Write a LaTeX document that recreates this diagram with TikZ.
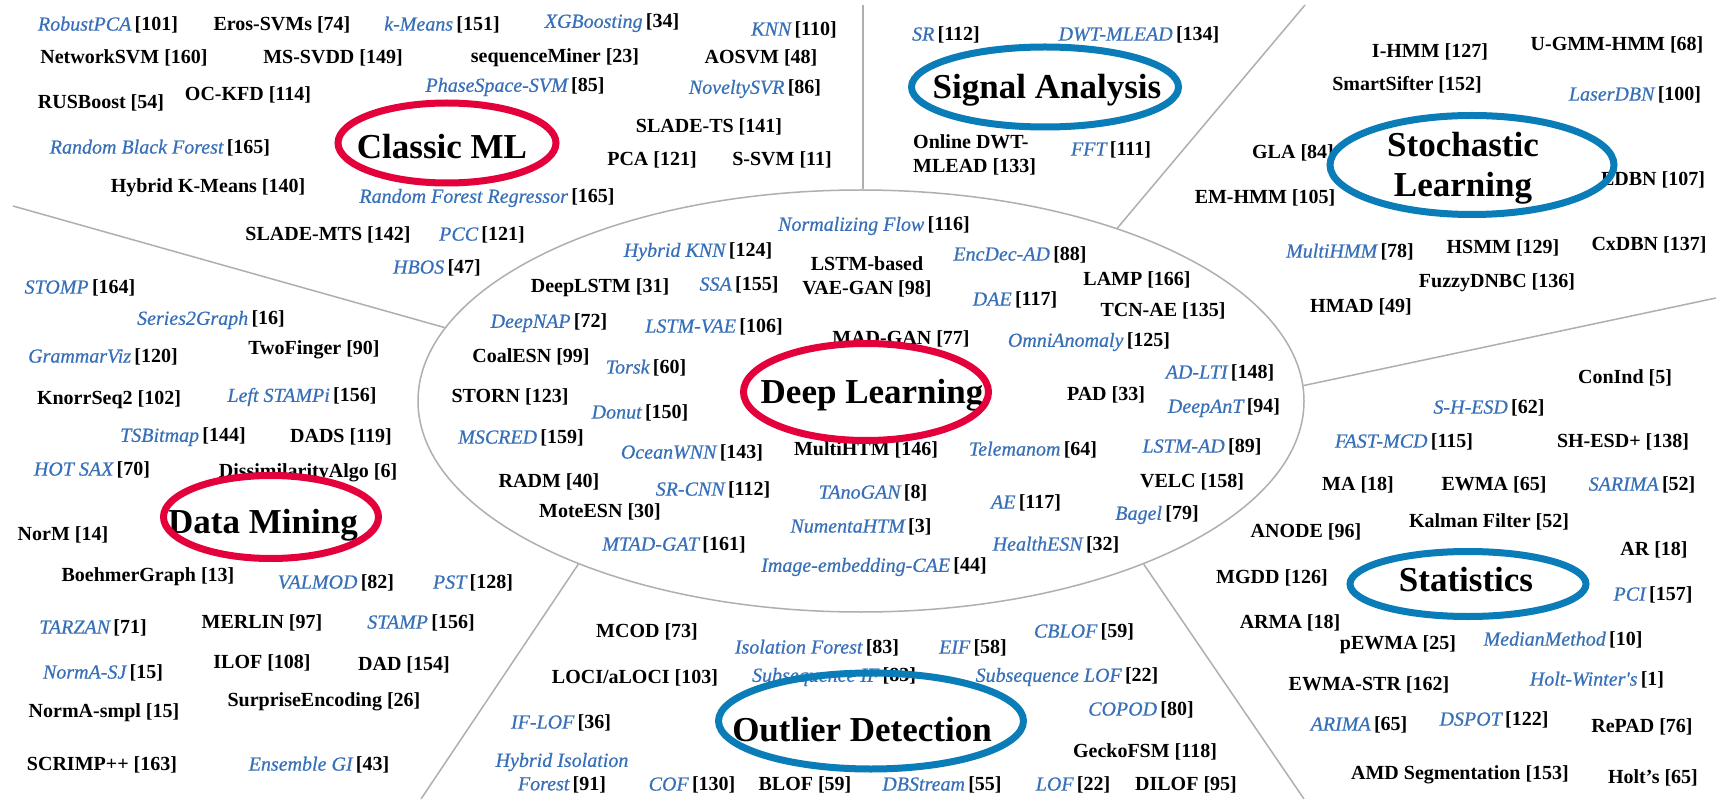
\documentclass[tikz,border=0pt]{standalone}
\usepackage{fontspec}
\setmainfont{Liberation Serif}
\newfontfamily\semiit{Liberation Serif}[FakeBold=0.5]
\usetikzlibrary{shapes.geometric}
\definecolor{catred}{RGB}{228,0,58}
\definecolor{catblue}{RGB}{10,124,184}
\definecolor{namblue}{RGB}{55,112,184}
\definecolor{divgray}{RGB}{175,175,175}
\newcommand\BL[2]{\textcolor{namblue}{\semiit\mdseries\itshape #1}\,[#2]}
\newcommand\BLT[1]{\textcolor{namblue}{\semiit\mdseries\itshape #1}}
\tikzset{
 lab/.style={font=\fontsize{20}{23.5}\selectfont\bfseries, inner sep=0pt},
 cat/.style={font=\fontsize{35}{40}\selectfont\bfseries, inner sep=0pt, align=center},
 catring/.style={ellipse, line width=7pt, inner sep=0pt},
 redring/.style={catring, draw=catred},
 bluering/.style={catring, draw=catblue},
 div/.style={draw=divgray, line width=1.5pt},
}
\begin{document}
\begin{tikzpicture}[x=1pt,y=-1pt]
\useasboundingbox (0,0) rectangle (1716,799);
\fill[white] (0,0) rectangle (1716,799);
% central ring and dividers
\node[ellipse, draw=divgray, line width=1.5pt, inner sep=0pt, minimum width=886pt, minimum height=422pt] (big) at (861,401) {};
\coordinate (cTop) at (863,5);
\coordinate (cTL) at (13,206);
\coordinate (cTR) at (1305,5);
\coordinate (cR) at (1716,298);
\coordinate (cBR) at (1304,799);
\coordinate (cBL) at (421,799);
\draw[div] (cTop) -- (cTop |- big.north);
\draw[div] (cTL) -- (big.170.4);
\draw[div] (cTR) -- (big.34.1);
\draw[div] (cR) -- (big.2.3);
\draw[div] (cBR) -- (big.330.1);
\draw[div] (cBL) -- (big.210.1);

% Classic ML
\node[lab] (robustpca) at (108,25) {\BL{RobustPCA}{101}};
\node[lab] (eros) at (282,25) {Eros-SVMs [74]};
\node[lab] (kmeans) at (442,25) {\BL{k-Means}{151}};
\node[lab] (xgb) at (612,23) {\BL{XGBoosting}{34}};
\node[lab] (knn) at (794,30) {\BL{KNN}{110}};
\node[lab] (netsvm) at (124,58) {NetworkSVM [160]};
\node[lab] (mssvdd) at (333,58) {MS-SVDD [149]};
\node[lab] (seqminer) at (555,58) {sequenceMiner [23]};
\node[lab] (aosvm) at (761,58) {AOSVM [48]};
\node[lab] (rusboost) at (101,103) {RUSBoost [54]};
\node[lab] (ockfd) at (248,95) {OC-KFD [114]};
\node[lab] (phasesvm) at (515,87) {\BL{PhaseSpace-SVM}{85}};
\node[lab] (noveltysvr) at (755,89) {\BL{NoveltySVR}{86}};
\node[lab] (rbf) at (160,148) {\BL{Random Black Forest}{165}};
\node[lab] (sladets) at (709,127) {SLADE-TS [141]};
\node[lab] (pca) at (652,160) {PCA [121]};
\node[lab] (ssvm) at (782,160) {S-SVM [11]};
\node[lab] (hkmeans) at (208,188) {Hybrid K-Means [140]};
\node[lab] (rfr) at (487,198) {\BL{Random Forest Regressor}{165}};
\node[lab] (slademts) at (328,235) {SLADE-MTS [142]};
\node[lab] (pcc) at (482,235) {\BL{PCC}{121}};
\node[lab] (hbos) at (437,268) {\BL{HBOS}{47}};

% Signal Analysis
\node[lab] (sr) at (946,35) {\BL{SR}{112}};
\node[lab] (dwtmlead) at (1139,35) {\BL{DWT-MLEAD}{134}};
\node[lab, align=left, anchor=west] (odwt) at (913,155) {Online DWT-\\MLEAD [133]};
\node[lab] (fft) at (1111,150) {\BL{FFT}{111}};

% Stochastic Learning
\node[lab] (ihmm) at (1430,52) {I-HMM [127]};
\node[lab] (ugmm) at (1617,45) {U-GMM-HMM [68]};
\node[lab] (smartsifter) at (1407,85) {SmartSifter [152]};
\node[lab] (laserdbn) at (1635,95) {\BL{LaserDBN}{100}};
\node[lab] (gla) at (1293,153) {GLA [84]};
\node[lab] (edbn) at (1653,180) {EDBN [107]};
\node[lab] (emhmm) at (1265,198) {EM-HMM [105]};
\node[lab] (multihmm) at (1350,252) {\BL{MultiHMM}{78}};
\node[lab] (hsmm) at (1503,248) {HSMM [129]};
\node[lab] (cxdbn) at (1649,245) {CxDBN [137]};
\node[lab] (fuzzy) at (1497,283) {FuzzyDNBC [136]};
\node[lab] (hmad) at (1361,307) {HMAD [49]};

% Statistics
\node[lab] (conind) at (1625,378) {ConInd [5]};
\node[lab] (shesd) at (1489,408) {\BL{S-H-ESD}{62}};
\node[lab] (fastmcd) at (1404,442) {\BL{FAST-MCD}{115}};
\node[lab] (shesdp) at (1623,442) {SH-ESD+ [138]};
\node[lab] (ma) at (1358,485) {MA [18]};
\node[lab] (ewma) at (1494,485) {EWMA [65]};
\node[lab] (sarima) at (1642,485) {\BL{SARIMA}{52}};
\node[lab] (kalman) at (1489,522) {Kalman Filter [52]};
\node[lab] (anode) at (1306,532) {ANODE [96]};
\node[lab] (ar) at (1654,550) {AR [18]};
\node[lab] (mgdd) at (1272,578) {MGDD [126]};
\node[lab] (pci) at (1653,595) {\BL{PCI}{157}};
\node[lab] (arma) at (1290,623) {ARMA [18]};
\node[lab] (pewma) at (1398,645) {pEWMA [25]};
\node[lab] (median) at (1563,640) {\BL{MedianMethod}{10}};
\node[lab] (ewmastr) at (1369,685) {EWMA-STR [162]};
\node[lab] (holtw) at (1597,680) {\BL{Holt-Winter's}{1}};
\node[lab] (arima) at (1359,725) {\BL{ARIMA}{65}};
\node[lab] (dspot) at (1494,720) {\BL{DSPOT}{122}};
\node[lab] (repad) at (1642,727) {RePAD [76]};
\node[lab] (amd) at (1460,775) {AMD Segmentation [153]};
\node[lab] (holt) at (1653,778) {Holt's [65]};

% Data Mining
\node[lab] (stomp) at (80,288) {\BL{STOMP}{164}};
\node[lab] (s2g) at (211,320) {\BL{Series2Graph}{16}};
\node[lab] (grammarviz) at (103,357) {\BL{GrammarViz}{120}};
\node[lab] (twofinger) at (314,350) {TwoFinger [90]};
\node[lab] (knorr) at (109,400) {KnorrSeq2 [102]};
\node[lab] (leftstampi) at (302,397) {\BL{Left STAMPi}{156}};
\node[lab] (tsbitmap) at (183,437) {\BL{TSBitmap}{144}};
\node[lab] (dads) at (341,437) {DADS [119]};
\node[lab] (hotsax) at (92,470) {\BL{HOT SAX}{70}};
\node[lab] (dissim) at (308,473) {DissimilarityAlgo [6]};
\node[lab] (norm) at (63,535) {NorM [14]};
\node[lab] (boehmer) at (148,577) {BoehmerGraph [13]};
\node[lab] (valmod) at (336,583) {\BL{VALMOD}{82}};
\node[lab] (pst) at (473,583) {\BL{PST}{128}};
\node[lab] (tarzan) at (93,628) {\BL{TARZAN}{71}};
\node[lab] (merlin) at (262,623) {MERLIN [97]};
\node[lab] (stamp) at (421,623) {\BL{STAMP}{156}};
\node[lab] (normasj) at (103,673) {\BL{NormA-SJ}{15}};
\node[lab] (ilof) at (262,663) {ILOF [108]};
\node[lab] (dad) at (404,665) {DAD [154]};
\node[lab] (normasmpl) at (104,713) {NormA-smpl [15]};
\node[lab] (surprise) at (324,702) {SurpriseEncoding [26]};
\node[lab] (scrimp) at (102,765) {SCRIMP++ [163]};
\node[lab] (ensgi) at (319,765) {\BL{Ensemble GI}{43}};

% Deep Learning
\node[lab] (nflow) at (874,226) {\BL{Normalizing Flow}{116}};
\node[lab] (hknn) at (698,252) {\BL{Hybrid KNN}{124}};
\node[lab, align=center] (lstmvaegan) at (867,277) {LSTM-based\\VAE-GAN [98]};
\node[lab] (encdec) at (1020,255) {\BL{EncDec-AD}{88}};
\node[lab] (deeplstm) at (600,288) {DeepLSTM [31]};
\node[lab] (ssa) at (739,285) {\BL{SSA}{155}};
\node[lab] (dae) at (1015,300) {\BL{DAE}{117}};
\node[lab] (lamp) at (1137,280) {LAMP [166]};
\node[lab] (tcnae) at (1163,311) {TCN-AE [135]};
\node[lab] (deepnap) at (549,323) {\BL{DeepNAP}{72}};
\node[lab] (lstmvae) at (714,327) {\BL{LSTM-VAE}{106}};
\node[lab] (madgan) at (901,339) {MAD-GAN [77]};
\node[lab] (omni) at (1089,342) {\BL{OmniAnomaly}{125}};
\node[lab] (coalesn) at (531,357) {CoalESN [99]};
\node[lab] (torsk) at (646,368) {\BL{Torsk}{60}};
\node[lab] (adlti) at (1220,373) {\BL{AD-LTI}{148}};
\node[lab] (storn) at (510,397) {STORN [123]};
\node[lab] (pad) at (1106,395) {PAD [33]};
\node[lab] (deepant) at (1224,408) {\BL{DeepAnT}{94}};
\node[lab] (donut) at (640,413) {\BL{Donut}{150}};
\node[lab] (mscred) at (521,438) {\BL{MSCRED}{159}};
\node[lab] (oceanwnn) at (692,453) {\BL{OceanWNN}{143}};
\node[lab] (multihtm) at (866,450) {MultiHTM [146]};
\node[lab] (telemanom) at (1033,450) {\BL{Telemanom}{64}};
\node[lab] (lstmad) at (1202,447) {\BL{LSTM-AD}{89}};
\node[lab] (radm) at (549,482) {RADM [40]};
\node[lab] (velc) at (1192,482) {VELC [158]};
\node[lab] (srcnn) at (713,490) {\BL{SR-CNN}{112}};
\node[lab] (tanogan) at (873,493) {\BL{TAnoGAN}{8}};
\node[lab] (ae) at (1026,503) {\BL{AE}{117}};
\node[lab] (moteesn) at (600,512) {MoteESN [30]};
\node[lab] (bagel) at (1157,515) {\BL{Bagel}{79}};
\node[lab] (numenta) at (861,527) {\BL{NumentaHTM}{3}};
\node[lab] (mtadgat) at (674,545) {\BL{MTAD-GAT}{161}};
\node[lab] (healthesn) at (1056,545) {\BL{HealthESN}{32}};
\node[lab] (imgcae) at (874,567) {\BL{Image-embedding-CAE}{44}};

% Outlier Detection
\node[lab] (mcod) at (647,632) {MCOD [73]};
\node[lab] (cblof) at (1084,632) {\BL{CBLOF}{59}};
\node[lab] (iforest) at (817,648) {\BL{Isolation Forest}{83}};
\node[lab] (eif) at (973,648) {\BL{EIF}{58}};
\node[lab] (loci) at (635,678) {LOCI/aLOCI [103]};
\node[lab] (subif) at (834,677) {\BL{Subsequence IF}{83}};
\node[lab] (sublof) at (1067,677) {\BL{Subsequence LOF}{22}};
\node[lab] (copod) at (1141,710) {\BL{COPOD}{80}};
\node[lab] (iflof) at (561,723) {\BL{IF-LOF}{36}};
\node[lab] (gecko) at (1145,752) {GeckoFSM [118]};
\node[lab, align=center] (hif) at (562,773) {\BLT{Hybrid Isolation}\\\BLT{Forest}\,[91]};
\node[lab] (cof) at (692,785) {\BL{COF}{130}};
\node[lab] (blof) at (805,785) {BLOF [59]};
\node[lab] (dbstream) at (942,785) {\BL{DBStream}{55}};
\node[lab] (lof) at (1073,785) {\BL{LOF}{22}};
\node[lab] (dilof) at (1186,785) {DILOF [95]};

% Category titles
\node[cat] (tClassic) at (442,147) {Classic ML};
\node[cat] (tSignal) at (1047,90) {Signal Analysis};
\node[cat] (tStoch) at (1463,168) {Stochastic\\Learning};
\node[cat] (tDeep) at (872,395) {Deep Learning};
\node[cat] (tDM) at (263,525) {Data Mining};
\node[cat] (tStat) at (1466,580) {Statistics};
\node[cat] (tOD) at (862,730) {Outlier Detection};

% Category rings
\node[redring, minimum width=218pt, minimum height=80pt] (eClassic) at (447,143) {};
\node[bluering, minimum width=267pt, minimum height=80pt] (eSignal) at (1045,87) {};
\node[bluering, minimum width=284pt, minimum height=99pt] (eStoch) at (1472,165) {};
\node[redring, minimum width=245pt, minimum height=97pt] (eDeep) at (866,392) {};
\node[redring, minimum width=215pt, minimum height=83pt] (eDM) at (271,517) {};
\node[bluering, minimum width=236pt, minimum height=65pt] (eStat) at (1468,584) {};
\node[bluering, minimum width=305pt, minimum height=96pt] (eOD) at (871,721) {};
\end{tikzpicture}
\end{document}
